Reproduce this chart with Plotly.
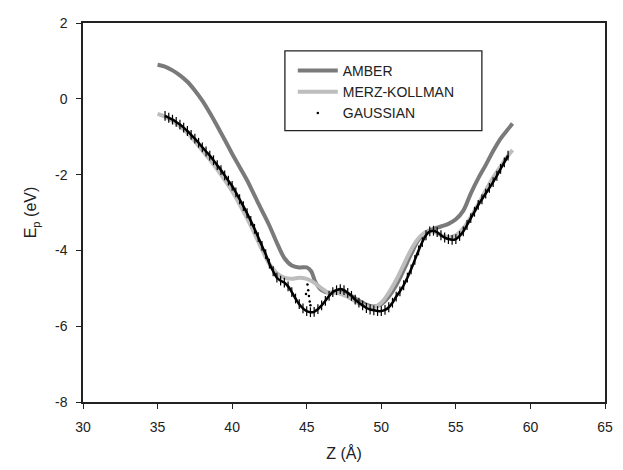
import plotly.graph_objects as go

# Potential energy profiles along the channel axis
amber_z = [35, 35.5, 36, 36.5, 37, 37.5, 38, 38.5, 39, 39.5, 40, 40.5, 41, 41.5, 42, 42.5,
           43, 43.5, 44, 44.5, 45, 45.3, 45.6, 46, 46.5, 47, 47.5, 48, 48.5, 49, 49.5, 50,
           50.5, 51, 51.5, 52, 52.5, 53, 53.5, 54, 54.5, 55, 55.5, 56, 56.5, 57, 57.5, 58,
           58.5, 58.8]
amber_ep = [0.9, 0.85, 0.75, 0.62, 0.45, 0.22, -0.05, -0.37, -0.72, -1.08, -1.45, -1.8,
            -2.15, -2.55, -2.95, -3.35, -3.8, -4.2, -4.4, -4.45, -4.45, -4.55, -4.85, -5.05,
            -5.12, -5.08, -5.1, -5.2, -5.33, -5.43, -5.48, -5.42, -5.22, -4.92, -4.52, -4.1,
            -3.72, -3.52, -3.43, -3.37, -3.3, -3.18, -2.95, -2.5, -2.1, -1.75, -1.38, -1.05,
            -0.8, -0.65]

mk_z = [35, 35.5, 36, 36.5, 37, 37.5, 38, 38.5, 39, 39.5, 40, 40.5, 41, 41.5, 42, 42.5,
        43, 43.5, 44, 44.5, 45, 45.5, 46, 46.5, 47, 47.5, 48, 48.5, 49, 49.5, 50, 50.5,
        51, 51.5, 52, 52.5, 53, 53.5, 54, 54.5, 55, 55.5, 56, 56.5, 57, 57.5, 58, 58.5, 58.8]
mk_ep = [-0.4, -0.47, -0.58, -0.72, -0.9, -1.12, -1.36, -1.6, -1.86, -2.14, -2.44, -2.78,
         -3.15, -3.55, -3.98, -4.36, -4.6, -4.72, -4.75, -4.72, -4.75, -4.85, -5.0, -5.12,
         -5.12, -5.18, -5.28, -5.4, -5.48, -5.5, -5.38, -5.12, -4.78, -4.38, -3.98, -3.68,
         -3.52, -3.5, -3.6, -3.65, -3.6, -3.42, -3.12, -2.78, -2.42, -2.08, -1.78, -1.5, -1.35]

gauss_z = [35.5, 35.75, 36, 36.25, 36.5, 36.75, 37, 37.25, 37.5, 37.75, 38, 38.25, 38.5,
           38.75, 39, 39.25, 39.5, 39.75, 40, 40.25, 40.5, 40.75, 41, 41.25, 41.5, 41.75,
           42, 42.25, 42.5, 42.75, 43, 43.25, 43.5, 43.75, 44, 44.25, 44.5, 44.75, 45,
           45.25, 45.5, 45.75, 46, 46.25, 46.5, 46.75, 47, 47.25, 47.5, 47.75, 48, 48.25,
           48.5, 48.75, 49, 49.25, 49.5, 49.75, 50, 50.25, 50.5, 50.75, 51, 51.25, 51.5,
           51.75, 52, 52.25, 52.5, 52.75, 53, 53.25, 53.5, 53.75, 54, 54.25, 54.5, 54.75,
           55, 55.25, 55.5, 55.75, 56, 56.25, 56.5, 56.75, 57, 57.25, 57.5, 57.75, 58,
           58.25, 58.5]
gauss_ep = [-0.45, -0.5, -0.55, -0.61, -0.68, -0.76, -0.85, -0.95, -1.05, -1.16, -1.28, -1.39,
            -1.5, -1.62, -1.75, -1.88, -2.02, -2.16, -2.3, -2.47, -2.65, -2.83, -3.02, -3.22,
            -3.43, -3.65, -3.88, -4.1, -4.35, -4.55, -4.72, -4.8, -4.85, -4.95, -5.1, -5.27,
            -5.42, -5.53, -5.6, -5.63, -5.62, -5.55, -5.45, -5.33, -5.2, -5.1, -5.05, -5.02,
            -5.05, -5.12, -5.2, -5.3, -5.38, -5.45, -5.52, -5.56, -5.58, -5.6, -5.6, -5.57,
            -5.5, -5.38, -5.22, -5.08, -4.92, -4.72, -4.5, -4.25, -4.0, -3.78, -3.6, -3.5,
            -3.48, -3.52, -3.6, -3.66, -3.7, -3.72, -3.7, -3.62, -3.5, -3.33, -3.15, -2.98,
            -2.8, -2.65, -2.5, -2.35, -2.2, -2.03, -1.85, -1.68, -1.5]

# scattered samples across the step near 45 Å
step_z = [44.95, 45.05, 45.1, 45.15, 45.2, 45.25]
step_ep = [-5.15, -4.9, -5.05, -5.2, -5.35, -5.45]

x_ticks = [30, 35, 40, 45, 50, 55, 60, 65]
y_ticks = [-8, -6, -4, -2, 0, 2]

FONT = "Arial, Liberation Sans, sans-serif"

fig = go.Figure()

fig.add_trace(go.Scatter(
    x=amber_z, y=amber_ep, mode="lines", name="AMBER",
    line=dict(color="#7a7a7a", width=4, shape="spline"),
))
fig.add_trace(go.Scatter(
    x=mk_z, y=mk_ep, mode="lines", name="MERZ-KOLLMAN",
    line=dict(color="#bdbdbd", width=4, shape="spline"),
))
# dense sampled profile: thin core plus short vertical hatch marks
fig.add_trace(go.Scatter(
    x=gauss_z, y=gauss_ep, mode="lines+markers", showlegend=False, legendgroup="g",
    line=dict(color="black", width=2.5, shape="spline"),
    marker=dict(symbol="line-ns-open", size=7, color="black",
                line=dict(color="black", width=1.2)),
))
fig.add_trace(go.Scatter(
    x=step_z, y=step_ep, mode="markers", showlegend=False, legendgroup="g",
    marker=dict(symbol="circle", size=2.5, color="black"),
))
# legend entry for the sampled profile: a single small dot
fig.add_trace(go.Scatter(
    x=[None], y=[None], mode="markers", name="GAUSSIAN", legendgroup="g",
    marker=dict(symbol="circle", size=2.5, color="black"),
))

# legend frame
fig.add_shape(type="rect", xref="paper", yref="paper",
              x0=(288 - 83) / 530, x1=(488 - 83) / 530,
              y0=(403 - 131) / 380, y1=(403 - 51) / 380,
              line=dict(color="#222", width=1.3), fillcolor="white", layer="below")

axis_common = dict(
    showline=True, linecolor="#222", linewidth=1.5, mirror=True,
    ticks="outside", ticklen=5, tickwidth=1.3, tickcolor="#222",
    showgrid=False, zeroline=False,
    tickfont=dict(family=FONT, size=14, color="#222"),
)

fig.update_layout(
    width=623, height=470,
    margin=dict(l=83, r=10, t=23, b=67),
    paper_bgcolor="white", plot_bgcolor="white",
    font=dict(family=FONT, color="#222"),
    showlegend=True,
    legend=dict(
        x=(296 - 83) / 530, y=(403 - 55) / 380, xanchor="left", yanchor="top",
        bgcolor="rgba(0,0,0,0)", borderwidth=0,
        font=dict(family=FONT, size=14, color="#222"),
        tracegroupgap=0, itemwidth=40,
    ),
    xaxis=dict(range=[30, 65], tickvals=x_ticks, ticktext=[str(v) for v in x_ticks],
               title=dict(text="Z (Å)", font=dict(family=FONT, size=16, color="#222"),
                          standoff=14),
               ticklabelstandoff=6, **axis_common),
    yaxis=dict(range=[-8, 2], tickvals=y_ticks, ticktext=[str(v) for v in y_ticks],
               title=dict(text="E<sub>p</sub> (eV)",
                          font=dict(family=FONT, size=16, color="#222"), standoff=14),
               ticklabelstandoff=6, **axis_common),
)

fig.write_html("out.html")
